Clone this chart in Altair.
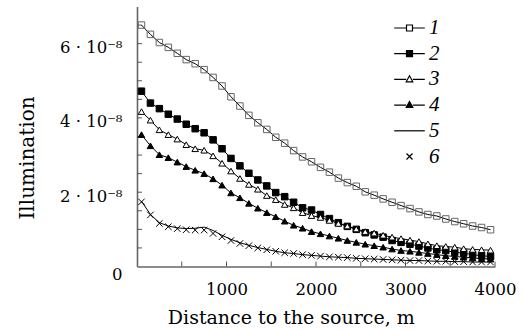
import altair as alt
import pandas as pd

# distance from the source, m
distance = [50, 150, 250, 350, 450, 550, 650, 750, 850, 950,
            1050, 1150, 1250, 1350, 1450, 1550, 1650, 1750, 1850, 1950,
            2050, 2150, 2250, 2350, 2450, 2550, 2650, 2750, 2850, 2950,
            3050, 3150, 3250, 3350, 3450, 3550, 3650, 3750, 3850, 3950]

# illumination, in units of 1e-8
s1 = [6.50, 6.25, 6.03, 5.90, 5.74, 5.57, 5.46, 5.30, 5.09, 4.86,
      4.57, 4.32, 4.07, 3.87, 3.69, 3.48, 3.32, 3.12, 2.95, 2.82,
      2.67, 2.54, 2.38, 2.26, 2.16, 2.01, 1.92, 1.82, 1.73, 1.64,
      1.56, 1.47, 1.40, 1.36, 1.28, 1.21, 1.15, 1.09, 1.05, 0.99]
s2 = [4.72, 4.40, 4.25, 4.10, 3.97, 3.83, 3.71, 3.60, 3.41, 3.17,
      2.91, 2.71, 2.51, 2.33, 2.17, 1.99, 1.88, 1.73, 1.58, 1.52,
      1.40, 1.29, 1.18, 1.08, 1.00, 0.91, 0.85, 0.79, 0.70, 0.65,
      0.60, 0.55, 0.50, 0.45, 0.43, 0.38, 0.36, 0.32, 0.29, 0.27]
s3 = [4.17, 3.94, 3.68, 3.55, 3.43, 3.28, 3.17, 3.13, 2.98, 2.78,
      2.57, 2.37, 2.21, 2.08, 1.91, 1.80, 1.67, 1.58, 1.45, 1.37,
      1.32, 1.24, 1.16, 1.09, 1.01, 0.94, 0.90, 0.84, 0.79, 0.75,
      0.71, 0.67, 0.61, 0.56, 0.54, 0.52, 0.48, 0.46, 0.45, 0.44]
s4 = [3.55, 3.25, 3.01, 2.93, 2.81, 2.69, 2.59, 2.50, 2.36, 2.19,
      1.98, 1.85, 1.70, 1.57, 1.45, 1.34, 1.22, 1.11, 1.03, 0.94,
      0.88, 0.82, 0.76, 0.70, 0.65, 0.60, 0.56, 0.52, 0.47, 0.43,
      0.41, 0.38, 0.35, 0.32, 0.29, 0.27, 0.25, 0.23, 0.21, 0.20]
s5 = [1.76, 1.40, 1.18, 1.09, 1.04, 1.02, 1.03, 1.06, 0.97, 0.84,
      0.73, 0.64, 0.57, 0.51, 0.46, 0.41, 0.37, 0.35, 0.32, 0.30,
      0.28, 0.26, 0.25, 0.24, 0.22, 0.21, 0.20, 0.19, 0.18, 0.17,
      0.16, 0.16, 0.15, 0.14, 0.14, 0.13, 0.13, 0.12, 0.12, 0.12]
s6 = [1.74, 1.39, 1.16, 1.07, 1.02, 0.99, 0.98, 0.98, 0.89, 0.80,
      0.70, 0.62, 0.56, 0.50, 0.45, 0.41, 0.37, 0.35, 0.32, 0.30,
      0.28, 0.26, 0.25, 0.24, 0.22, 0.21, 0.20, 0.19, 0.18, 0.17,
      0.16, 0.16, 0.15, 0.14, 0.14, 0.13, 0.13, 0.12, 0.12, 0.12]

series_names = ["1", "2", "3", "4", "5", "6"]
series_values = [s1, s2, s3, s4, s5, s6]

# axis tick positions
x_ticks = [500, 1000, 1500, 2000, 2500, 3000, 3500, 4000]
y_ticks = [0.5e-8, 1e-8, 1.5e-8, 2e-8, 2.5e-8, 3e-8, 3.5e-8, 4e-8,
           4.5e-8, 5e-8, 5.5e-8, 6e-8, 6.5e-8]
y_label_values = [0, 2e-8, 4e-8, 6e-8]
x_label_values = [1000, 2000, 3000, 4000]

rows = []
for name, vals in zip(series_names, series_values):
    for d, v in zip(distance, vals):
        rows.append({"series": name, "distance": d, "illum": v * 1e-8})
df = pd.DataFrame(rows)

FONT = "DejaVu Serif"

x_enc = alt.X(
    "distance:Q",
    scale=alt.Scale(domain=[0, 4000], nice=False),
    axis=alt.Axis(
        title="Distance to the source, m",
        values=x_label_values,
        format="d",
        labelFlush=False,
        labelOverlap=False,
        grid=False,
        ticks=False,
        labelPadding=15,
        titleFontSize=19,
        titleX=153.8,
        titleY=57,
        titleAlign="center",
        titleBaseline="alphabetic",
    ),
)
y_enc = alt.Y(
    "illum:Q",
    scale=alt.Scale(domain=[0, 7e-8], nice=False),
    axis=alt.Axis(
        title="Illumination",
        values=y_label_values,
        labelExpr="datum.value == 0 ? '0' : round(datum.value*1e8) + ' · 10⁻⁸'",
        labelOverlap=False,
        labelFlush=False,
        grid=False,
        ticks=False,
        labelPadding=15,
        labelOffset={"expr": "datum.value == 0 ? 8 : 4"},
        titleFontSize=20,
        titleX=-104,
        titleY=151,
        titleAngle=270,
        titleAlign="center",
        titleBaseline="alphabetic",
    ),
)

# inward axis ticks
y_tick_df = pd.DataFrame({"illum": y_ticks})
x_tick_df = pd.DataFrame({"distance": x_ticks})
y_tick_layer = alt.Chart(y_tick_df).mark_rule(color="#555555", strokeWidth=1).encode(
    y=y_enc, x=alt.value(0), x2=alt.value(5)
)
x_tick_layer = alt.Chart(x_tick_df).mark_rule(color="#555555", strokeWidth=1).encode(
    x=x_enc, y=alt.value(260), y2=alt.value(255)
)

lines = alt.Chart(df).transform_filter("datum.series != '6'").mark_line(
    color="black", strokeWidth=1
).encode(x=x_enc, y=y_enc, detail="series:N")

marker_names = ["1", "2", "3", "4", "6"]
markers = alt.Chart(df).transform_filter("datum.series != '5'").mark_point(
    size=42, strokeWidth=1, opacity=1
).encode(
    x=x_enc,
    y=y_enc,
    shape=alt.Shape("series:N", legend=None, scale=alt.Scale(
        domain=marker_names,
        range=["square", "square", "triangle-up", "triangle-up", "M-1,-1L1,1M-1,1L1,-1"])),
    fill=alt.Fill("series:N", legend=None, scale=alt.Scale(
        domain=marker_names,
        range=["transparent", "black", "white", "black", "transparent"])),
    stroke=alt.Stroke("series:N", legend=None, scale=alt.Scale(
        domain=marker_names,
        range=["#666666", "black", "black", "black", "black"])),
)

leg = dict(
    orient="none", legendX=262, legendY=11, title=None, padding=0,
    symbolSize=144, symbolStrokeWidth=1.2, symbolOpacity=1,
    labelFont="Liberation Serif", labelFontSize=21, labelFontStyle="italic",
    labelColor="black", labelOffset=9, rowPadding=3.7,
)
legend_paths = [
    "M-2.55,0H-0.5M0.5,0H2.55M-0.5,-0.5H0.5V0.5H-0.5Z",
    "M-2.55,0H-0.5M0.5,0H2.55M-0.5,-0.5H0.5V0.5H-0.5Z",
    "M-2.55,0H-0.55M0.55,0H2.55M0,-0.6L0.55,0.4H-0.55Z",
    "M-2.55,0H-0.55M0.55,0H2.55M0,-0.6L0.55,0.4H-0.55Z",
    "M-2.55,0H2.55",
    "M-0.5,-0.5L0.5,0.5M-0.5,0.5L0.5,-0.5",
]
legend_layer = alt.Chart(df).mark_point(opacity=0, filled=True).encode(
    x=x_enc,
    y=y_enc,
    shape=alt.Shape("series:N", legend=alt.Legend(**leg), scale=alt.Scale(
        domain=series_names, range=legend_paths)),
    fill=alt.Fill("series:N", legend=alt.Legend(**leg), scale=alt.Scale(
        domain=series_names,
        range=["white", "black", "white", "black", "transparent", "transparent"])),
    stroke=alt.Stroke("series:N", legend=alt.Legend(**leg), scale=alt.Scale(
        domain=series_names,
        range=["black", "black", "black", "black", "black", "black"])),
)

chart = alt.layer(
    y_tick_layer, x_tick_layer, lines, markers, legend_layer
).resolve_scale(
    shape="independent", fill="independent", stroke="independent"
).properties(
    width=358, height=260,
    autosize=alt.AutoSizeParams(type="none"),
    padding={"left": 137, "top": 6.5, "right": 29, "bottom": 64.5},
    background="white",
).configure_view(stroke=None).configure_axis(
    labelFont=FONT, labelFontSize=16.5, labelColor="black",
    titleFont=FONT, titleFontWeight="normal", titleColor="black",
    domainColor="#666666", domainWidth=1.6,
)

chart.save("out.html", embed_options={"renderer": "svg", "actions": False})
